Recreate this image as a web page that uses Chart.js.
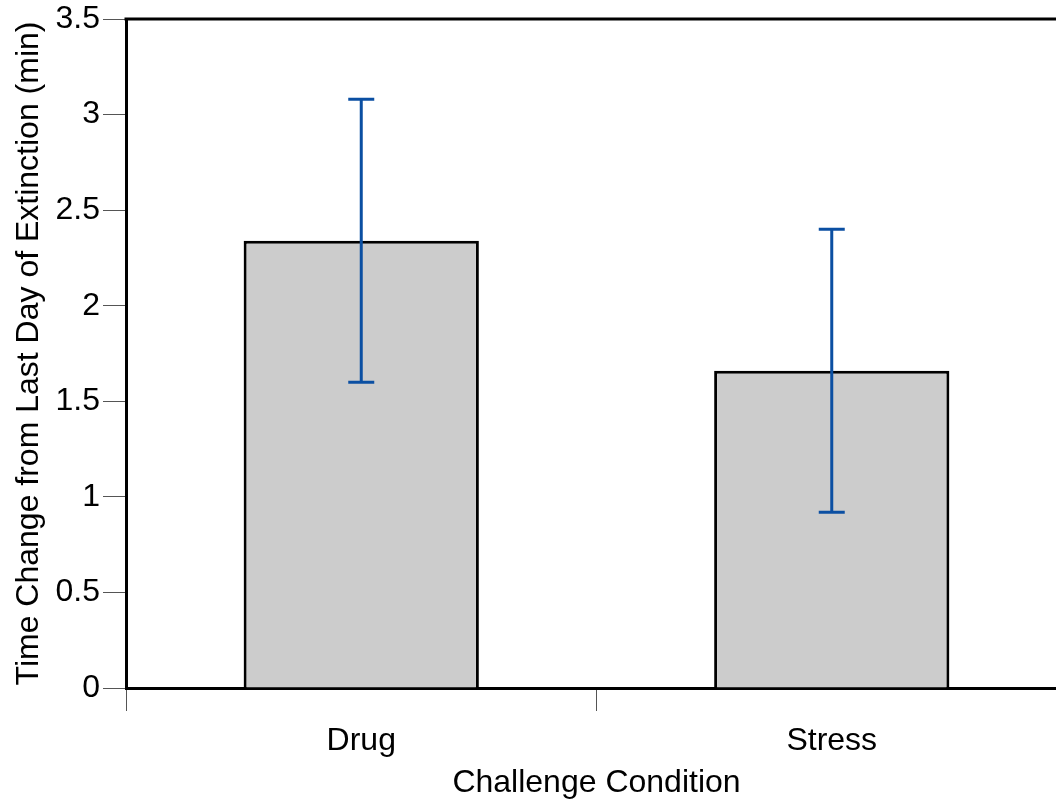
<!DOCTYPE html>
<html>
<head>
<meta charset="utf-8">
<script src="https://cdn.jsdelivr.net/npm/chart.js@4/dist/chart.umd.min.js"></script>
<style>
  html, body { margin: 0; padding: 0; background: #fff; overflow: hidden; }
  #wrap { width: 1067px; height: 804px; }
</style>
</head>
<body>
<div id="wrap"><canvas id="c" width="1067" height="804"></canvas></div>
<script>
const categories = ['Drug', 'Stress'];
const means = [2.34, 1.66];
const errHigh = [3.08, 2.40];
const errLow = [1.60, 0.92];
const yTicks = [0, 0.5, 1, 1.5, 2, 2.5, 3, 3.5];

const FONT = '"Liberation Sans", Arial, sans-serif';

const errorBars = {
  id: 'errorBars',
  afterDatasetsDraw(chart) {
    const ctx = chart.ctx;
    const x = chart.scales.x, y = chart.scales.y;
    ctx.save();
    ctx.strokeStyle = '#0b4fa2';
    ctx.lineWidth = 3;
    categories.forEach((c, i) => {
      const px = x.getPixelForValue(i);
      const yh = y.getPixelForValue(errHigh[i]);
      const yl = y.getPixelForValue(errLow[i]);
      ctx.beginPath();
      ctx.moveTo(px, yh); ctx.lineTo(px, yl);
      ctx.moveTo(px - 13, yh); ctx.lineTo(px + 13, yh);
      ctx.moveTo(px - 13, yl); ctx.lineTo(px + 13, yl);
      ctx.stroke();
    });
    ctx.restore();
  }
};

const topFrame = {
  id: 'topFrame',
  afterDraw(chart) {
    const ctx = chart.ctx, a = chart.chartArea;
    ctx.save();
    ctx.strokeStyle = '#000';
    ctx.lineWidth = 3;
    ctx.beginPath();
    ctx.moveTo(a.left - 1.5, a.top);
    ctx.lineTo(a.right, a.top);
    ctx.stroke();
    ctx.restore();
  }
};

new Chart(document.getElementById('c'), {
  type: 'bar',
  data: {
    labels: categories,
    datasets: [{
      data: means,
      backgroundColor: '#cccccc',
      borderColor: '#000000',
      borderWidth: 3,
      barPercentage: 0.5,
      categoryPercentage: 1.0
    }]
  },
  options: {
    responsive: false,
    animation: false,
    devicePixelRatio: 1,
    layout: { padding: { top: 18, left: 0, right: 0, bottom: 0 } },
    plugins: { legend: { display: false }, tooltip: { enabled: false } },
    scales: {
      x: {
        z: 1,
        grid: { offset: true, drawOnChartArea: false, drawTicks: true, tickLength: 23, color: '#555', lineWidth: 1 },
        border: { display: true, color: '#000', width: 3 },
        ticks: { color: '#000', font: { family: FONT, size: 32 }, padding: 11, maxRotation: 0 },
        title: { display: true, text: 'Challenge Condition', color: '#000', font: { family: FONT, size: 32 }, padding: { top: 4, bottom: 2 } },
        afterFit(s) { s.height = 116; }
      },
      y: {
        z: 1,
        min: 0, max: 3.5,
        afterBuildTicks(s) { s.ticks = yTicks.map(v => ({ value: v })); },
        grid: { drawOnChartArea: false, drawTicks: true, tickLength: 23, color: '#555', lineWidth: 1 },
        border: { display: true, color: '#000', width: 3 },
        ticks: { color: '#000', font: { family: FONT, size: 32, lineHeight: 1.0 }, padding: 3, callback: v => String(v) },
        title: { display: true, text: 'Time Change from Last Day of Extinction (min)', color: '#000', font: { family: FONT, size: 32 }, padding: { top: 10, bottom: 0 } },
        afterFit(s) { s.width = 126; }
      }
    }
  },
  plugins: [errorBars, topFrame]
});
</script>
</body>
</html>
